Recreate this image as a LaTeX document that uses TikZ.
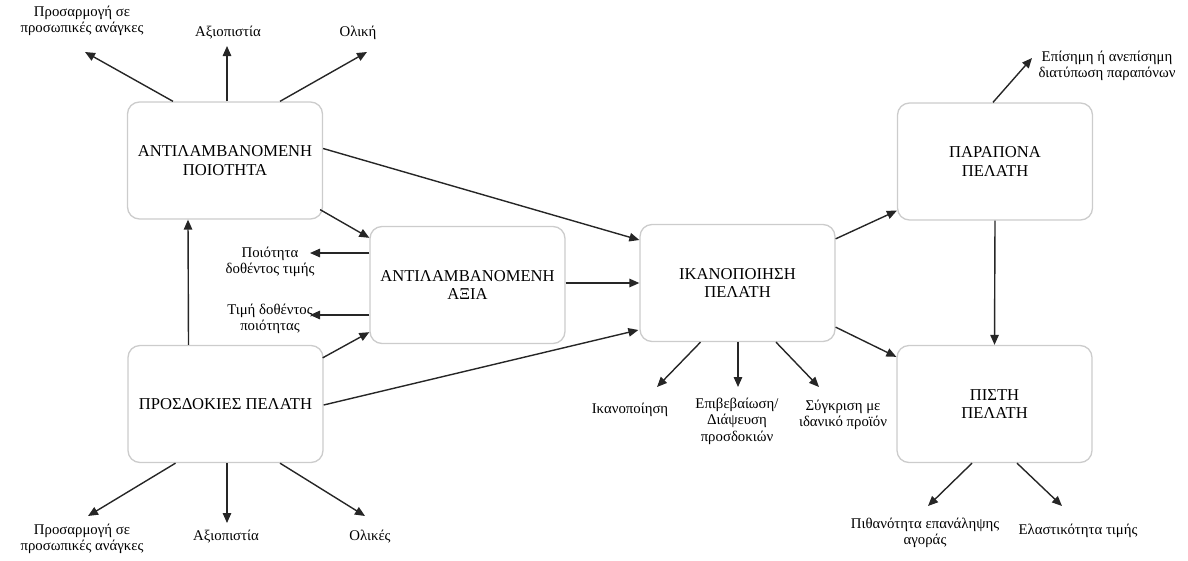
\documentclass[tikz,border=0pt]{standalone}
\usepackage{fontspec}
\setmainfont{Liberation Serif}
\usetikzlibrary{arrows.meta, calc}
\tikzset{
    my-box/.style={
        draw=black!20, line width=1.3pt, rounded corners=12pt, fill=white,
        minimum width=195pt, minimum height=117pt, align=center,
        font=\fontsize{16.6}{18.5}\selectfont
    },
    my-label/.style={
        align=center, inner sep=0pt, font=\fontsize{14.8}{16.5}\selectfont
    },
    my-arrow/.style={
        -{Triangle[length=10pt,width=8.5pt]}, line width=1.4pt, draw=black!85
    },
}

\begin{document}
\begin{tikzpicture}[x=1pt, y=-1pt]

        \useasboundingbox (0,0) rectangle (1188,560);

        % BOXES
        \node[my-box] (AQ) at (225,160.5)   {ΑΝΤΙΛΑΜΒΑΝΟΜΕΝΗ\\ΠΟΙΟΤΗΤΑ};
        \node[my-box] (AV) at (467.5,285)   {ΑΝΤΙΛΑΜΒΑΝΟΜΕΝΗ\\ΑΞΙΑ};
        \node[my-box] (PE) at (225.5,404)   {ΠΡΟΣΔΟΚΙΕΣ ΠΕΛΑΤΗ};
        \node[my-box] (IK) at (737.5,283)   {ΙΚΑΝΟΠΟΙΗΣΗ\\ΠΕΛΑΤΗ};
        \node[my-box] (PA) at (995,161.5)   {ΠΑΡΑΠΟΝΑ\\ΠΕΛΑΤΗ};
        \node[my-box] (PI) at (994.5,404)   {ΠΙΣΤΗ\\ΠΕΛΑΤΗ};

        % LABELS
        \node[my-label] (AQL1) at (82,21)    {Προσαρμογή σε\\προσωπικές ανάγκες};
        \node[my-label] (AQL2) at (228,33)   {Αξιοπιστία};
        \node[my-label] (AQL3) at (358,33)   {Ολική};
        \node[my-label] (AVL1) at (270,262)  {Ποιότητα\\δοθέντος τιμής};
        \node[my-label] (AVL2) at (270,319)  {Τιμή δοθέντος\\ποιότητας};
        \node[my-label] (PEL1) at (82,539)   {Προσαρμογή σε\\προσωπικές ανάγκες};
        \node[my-label] (PEL2) at (226,537)  {Αξιοπιστία};
        \node[my-label] (PEL3) at (370,537)  {Ολικές};
        \node[my-label] (IKL1) at (630,410)  {Ικανοποίηση};
        \node[my-label] (IKL2) at (737,421)  {Επιβεβαίωση/\\Διάψευση\\προσδοκιών};
        \node[my-label] (IKL3) at (843,415)  {Σύγκριση με\\ιδανικό προϊόν};
        \node[my-label] (PAL1) at (1107,66)  {Επίσημη ή ανεπίσημη\\διατύπωση παραπόνων};
        \node[my-label] (PIL1) at (925,533)  {Πιθανότητα επανάληψης\\αγοράς};
        \node[my-label] (PIL2) at (1078,531) {Ελαστικότητα τιμής};

        % ARROW ENDS NEXT TO THE LABELS
        \coordinate (AQE1) at (85,52);
        \coordinate (AQE2) at (227,46);
        \coordinate (AQE3) at (367,52);
        \coordinate (AVE1) at (310,253);
        \coordinate (AVE2) at (310,315);
        \coordinate (PEE1) at (88,516);
        \coordinate (PEE2) at (227,523);
        \coordinate (PEE3) at (365,516);
        \coordinate (IKE1) at (657,387);
        \coordinate (IKE2) at (738,387);
        \coordinate (IKE3) at (819,387);
        \coordinate (PAE1) at (1032,58);
        \coordinate (PIE1) at (928,506);
        \coordinate (PIE2) at (1062,506);

        % CONNECTIONS BETWEEN BOXES
        \draw[my-arrow] ($(AQ.east)+(0,-12)$)       -- ($(IK.west)+(0,-43)$);
        \draw[my-arrow] ($(AQ.south east)+(-3,-10)$) -- ($(AV.north west)+(0,12)$);
        \draw[my-arrow] ($(PE.north)+(-37,0)$)      -- ($(AQ.south)+(-37,0)$);
        \draw[my-arrow] ($(PE.north east)+(-1,13)$) -- ($(AV.south west)+(0,-12)$);
        \draw[my-arrow] ($(PE.east)+(0,1)$)         -- ($(IK.west)+(-1,47)$);
        \draw[my-arrow] (AV.east |- IK.west)        -- (IK.west);
        \draw[my-arrow] ($(IK.north east)+(0,15)$)  -- ($(PA.south west)+(0,-10)$);
        \draw[my-arrow] ($(IK.south east)+(0,-15)$) -- ($(PI.north west)+(0,12)$);
        \draw[my-arrow] (PA.south)                  -- (PI.north);

        % CONNECTIONS TO THE LABELS
        \draw[my-arrow] ($(AQ.north)+(-52,0)$)  -- (AQE1);
        \draw[my-arrow] ($(AQ.north)+(2,0)$)    -- (AQE2);
        \draw[my-arrow] ($(AQ.north)+(55,0)$)   -- (AQE3);
        \draw[my-arrow] ($(AV.west)+(0,-32)$)   -- (AVE1);
        \draw[my-arrow] ($(AV.west)+(0,30)$)    -- (AVE2);
        \draw[my-arrow] ($(PE.south)+(-50,0)$)  -- (PEE1);
        \draw[my-arrow] ($(PE.south)+(1.5,0)$)  -- (PEE2);
        \draw[my-arrow] ($(PE.south)+(54.5,0)$) -- (PEE3);
        \draw[my-arrow] ($(IK.south)+(-37,0)$)  -- (IKE1);
        \draw[my-arrow] ($(IK.south)+(0.5,0)$)  -- (IKE2);
        \draw[my-arrow] ($(IK.south)+(38.5,0)$) -- (IKE3);
        \draw[my-arrow] ($(PA.north)+(-2,0)$)   -- (PAE1);
        \draw[my-arrow] ($(PI.south)+(-22.5,0)$) -- (PIE1);
        \draw[my-arrow] ($(PI.south)+(22.5,0)$) -- (PIE2);

\end{tikzpicture}
\end{document}
